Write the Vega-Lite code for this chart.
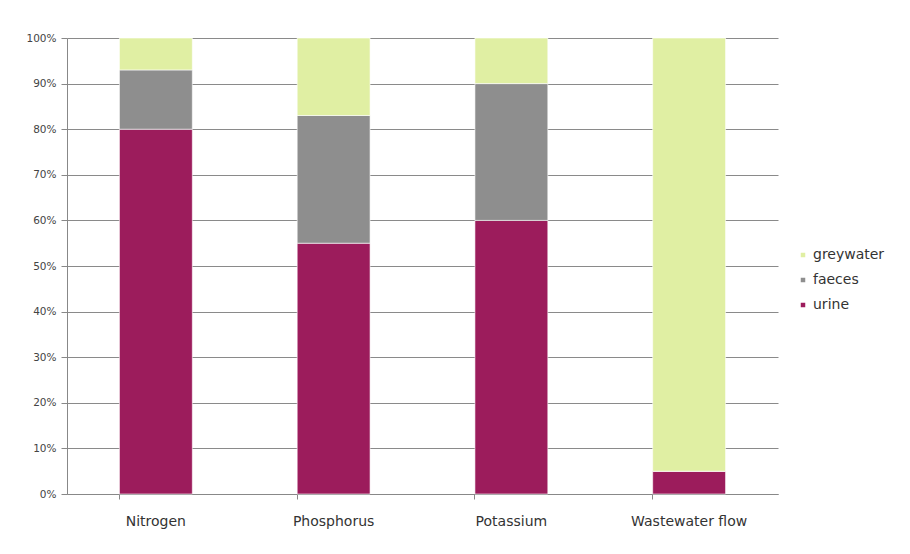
{
  "$schema": "https://vega.github.io/schema/vega-lite/v6.json",
  "width": 711,
  "height": 456,
  "autosize": "none",
  "padding": {"left": 67, "top": 38, "right": 132, "bottom": 60},
  "background": "#ffffff",
  "config": {
    "view": {"stroke": null},
    "font": "DejaVu Sans"
  },
  "data": {
    "values": [
      {"category": "Nitrogen", "part": "urine", "value": 0.80, "rank": 1},
      {"category": "Nitrogen", "part": "faeces", "value": 0.13, "rank": 2},
      {"category": "Nitrogen", "part": "greywater", "value": 0.07, "rank": 3},
      {"category": "Phosphorus", "part": "urine", "value": 0.55, "rank": 1},
      {"category": "Phosphorus", "part": "faeces", "value": 0.28, "rank": 2},
      {"category": "Phosphorus", "part": "greywater", "value": 0.17, "rank": 3},
      {"category": "Potassium", "part": "urine", "value": 0.60, "rank": 1},
      {"category": "Potassium", "part": "faeces", "value": 0.30, "rank": 2},
      {"category": "Potassium", "part": "greywater", "value": 0.10, "rank": 3},
      {"category": "Wastewater flow", "part": "urine", "value": 0.05, "rank": 1},
      {"category": "Wastewater flow", "part": "faeces", "value": 0.0, "rank": 2},
      {"category": "Wastewater flow", "part": "greywater", "value": 0.95, "rank": 3}
    ]
  },
  "mark": {"type": "bar", "stroke": "#ffffff", "strokeWidth": 0.6},
  "encoding": {
    "x": {
      "field": "category",
      "type": "nominal",
      "sort": null,
      "scale": {"paddingInner": 0.59, "paddingOuter": 0.295},
      "axis": {
        "title": null,
        "labelAngle": 0,
        "labelFontSize": 14,
        "labelColor": "#333333",
        "labelPadding": 15,
        "domainColor": "#888888",
        "tickColor": "#888888",
        "tickSize": 5,
        "bandPosition": 0
      }
    },
    "y": {
      "field": "value",
      "type": "quantitative",
      "stack": "zero",
      "scale": {"domain": [0, 1], "nice": false},
      "axis": {
        "title": null,
        "format": ".0%",
        "values": [0, 0.1, 0.2, 0.3, 0.4, 0.5, 0.6, 0.7, 0.8, 0.9, 1],
        "labelOverlap": false,
        "labelFontSize": 10.5,
        "labelColor": "#444444",
        "labelPadding": 5,
        "grid": true,
        "gridColor": "#8a8a8a",
        "gridWidth": 1,
        "domainColor": "#888888",
        "tickColor": "#888888",
        "tickSize": 6
      }
    },
    "color": {
      "field": "part",
      "type": "nominal",
      "scale": {
        "domain": ["greywater", "faeces", "urine"],
        "range": ["#e0efa3", "#8e8e8e", "#9c1c5c"]
      },
      "legend": {
        "title": null,
        "orient": "none",
        "legendX": 729,
        "legendY": 210,
        "symbolType": "square",
        "symbolSize": 36,
        "labelFontSize": 14,
        "labelColor": "#333333",
        "rowPadding": 11,
        "labelOffset": 3
      }
    },
    "order": {"field": "rank", "type": "quantitative", "sort": "ascending"}
  }
}
